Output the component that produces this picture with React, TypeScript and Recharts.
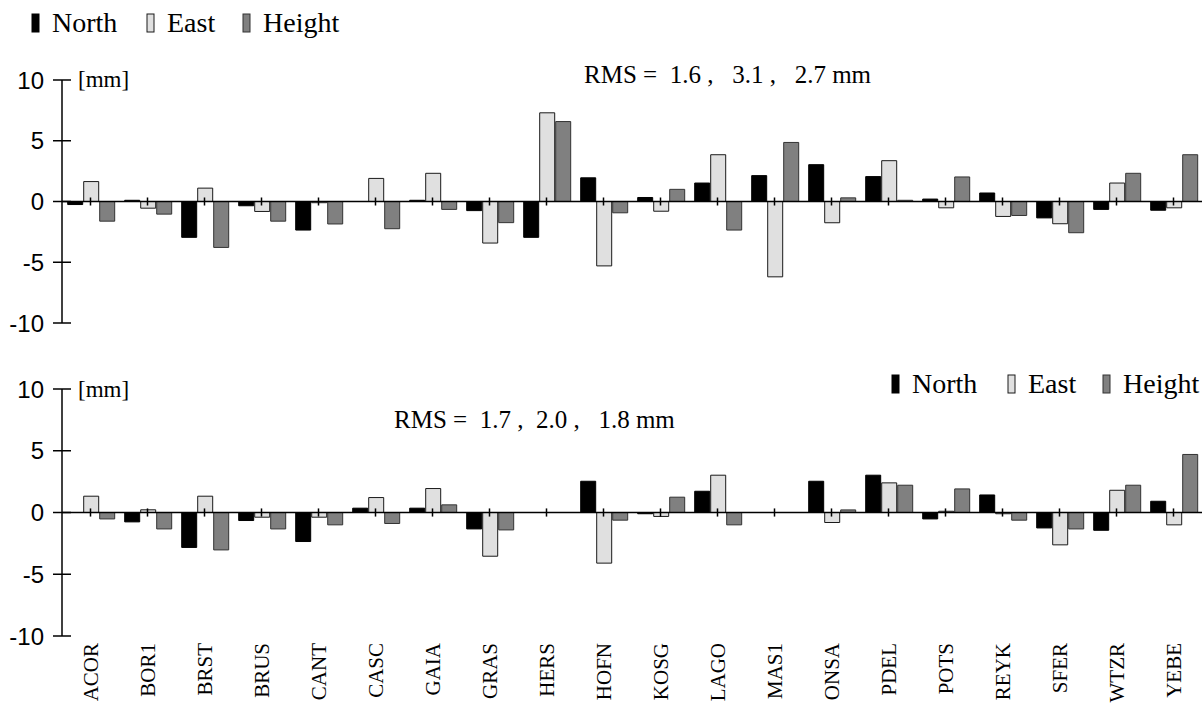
import { Bar, BarChart, ReferenceLine, XAxis, YAxis } from "recharts";

const stations = [
  "ACOR", "BOR1", "BRST", "BRUS", "CANT", "CASC", "GAIA", "GRAS", "HERS", "HOFN",
  "KOSG", "LAGO", "MAS1", "ONSA", "PDEL", "POTS", "REYK", "SFER", "WTZR", "YEBE",
];

// upper panel
const north1 = [-0.25, 0.1, -2.95, -0.35, -2.35, 0, 0.1, -0.75, -2.95, 1.95, 0.33, 1.52, 2.13, 3.03, 2.05, 0.2, 0.7, -1.35, -0.65, -0.72];
const east1 = [1.64, -0.55, 1.1, -0.82, -0.1, 1.9, 2.32, -3.42, 7.3, -5.3, -0.8, 3.85, -6.2, -1.75, 3.36, -0.52, -1.23, -1.83, 1.52, -0.52];
const height1 = [-1.62, -1.04, -3.78, -1.62, -1.85, -2.24, -0.65, -1.74, 6.58, -0.93, 1.0, -2.35, 4.86, 0.3, 0.1, 2.02, -1.15, -2.57, 2.32, 3.85];

// lower panel
const north2 = [0, -0.76, -2.83, -0.65, -2.35, 0.35, 0.35, -1.33, 0, 2.53, -0.1, 1.72, 0, 2.53, 3.02, -0.52, 1.42, -1.25, -1.44, 0.91];
const east2 = [1.32, 0.22, 1.32, -0.38, -0.38, 1.21, 1.94, -3.54, 0, -4.1, -0.32, 3.02, 0, -0.81, 2.4, 0.1, -0.1, -2.62, 1.8, -1.0];
const height2 = [-0.52, -1.33, -3.03, -1.33, -1.0, -0.89, 0.62, -1.41, 0, -0.62, 1.24, -1.0, 0, 0.21, 2.21, 1.91, -0.62, -1.33, 2.21, 4.7];

const yTicks = [-10, -5, 0, 5, 10];
const rms1 = "RMS =  1.6 ,   3.1 ,   2.7 mm";
const rms2 = "RMS =  1.7 ,  2.0 ,   1.8 mm";

const series = [
  { key: "north", label: "North", fill: "#000000", stroke: "#000000" },
  { key: "east", label: "East", fill: "#e0e0e0", stroke: "#1a1a1a" },
  { key: "height", label: "Height", fill: "#808080", stroke: "#333333" },
];

const rows1 = stations.map((station, i) => ({ station, north: north1[i], east: east1[i], height: height1[i] }));
const rows2 = stations.map((station, i) => ({ station, north: north2[i], east: east2[i], height: height2[i] }));

const SERIF = "'Liberation Serif', 'Times New Roman', serif";
const SANS = "'Liberation Sans', Arial, sans-serif";

function YTick({ x, y, payload }: any) {
  return (
    <g>
      <line x1={x - 9} x2={x + 9} y1={y} y2={y} stroke="#000" strokeWidth={1.5} />
      <text x={x - 18} y={y} dy="0.36em" textAnchor="end" fontFamily={SANS} fontSize={24} fill="#000">
        {payload.value}
      </text>
    </g>
  );
}

function StationTick({ x, y, payload }: any) {
  return (
    <text
      x={x}
      y={y + 7}
      dy="0.35em"
      textAnchor="end"
      transform={`rotate(-90, ${x}, ${y + 7})`}
      fontFamily={SERIF}
      fontSize={21}
      fill="#000"
    >
      {payload.value}
    </text>
  );
}

function Panel({ rows, height, top, showLabels }: { rows: any[]; height: number; top: number; showLabels: boolean }) {
  return (
    <BarChart
      width={1202}
      height={height}
      data={rows}
      margin={{ top, right: 0, left: 12, bottom: showLabels ? 1 : 17 }}
      barCategoryGap="10%"
      barGap={1}
    >
      <XAxis
        dataKey="station"
        type="category"
        interval={0}
        hide={!showLabels}
        axisLine={false}
        tickLine={false}
        tickSize={0}
        tickMargin={0}
        height={70}
        tick={<StationTick />}
      />
      <YAxis
        type="number"
        domain={[-10, 10]}
        ticks={yTicks}
        width={50}
        interval={0}
        axisLine={{ stroke: "#000", strokeWidth: 1.5 }}
        tickLine={false}
        tickSize={0}
        tickMargin={0}
        tick={<YTick />}
      />
      {stations.map((s) => (
        <ReferenceLine
          key={s}
          segment={[
            { x: s, y: 0.33 },
            { x: s, y: -0.33 },
          ]}
          stroke="#000"
          strokeWidth={1.5}
        />
      ))}
      {series.map((s) => (
        <Bar
          key={s.key}
          dataKey={s.key}
          fill={s.fill}
          stroke={s.stroke}
          strokeWidth={1}
          isAnimationActive={false}
        />
      ))}
      <ReferenceLine y={0} stroke="#000" strokeWidth={1.5} />
    </BarChart>
  );
}

function LegendRow({ xs, y }: { xs: number[]; y: number }) {
  return (
    <g>
      {series.map((s, i) => (
        <g key={s.key}>
          <rect x={xs[i]} y={y - 18} width={7} height={18} fill={s.fill} stroke={s.stroke} strokeWidth={1} />
          <text x={xs[i] + 20} y={y} fontFamily={SERIF} fontSize={28} fill="#000">
            {s.label}
          </text>
        </g>
      ))}
    </g>
  );
}

export default function App() {
  return (
    <div style={{ position: "absolute", left: 0, top: 0, width: 1202, height: 707, background: "#fff" }}>
      <div style={{ position: "absolute", left: 0, top: 0 }}>
        <Panel rows={rows1} height={340} top={80} showLabels={false} />
      </div>
      <div style={{ position: "absolute", left: 0, top: 360 }}>
        <Panel rows={rows2} height={347} top={29} showLabels={true} />
      </div>
      <svg
        width={1202}
        height={707}
        style={{ position: "absolute", left: 0, top: 0, pointerEvents: "none" }}
      >
        <LegendRow xs={[32, 147, 243]} y={32} />
        <LegendRow xs={[892, 1008, 1103]} y={393} />
        <text x={78} y={87} fontFamily={SERIF} fontSize={23} fill="#000">[mm]</text>
        <text x={78} y={397} fontFamily={SERIF} fontSize={23} fill="#000">[mm]</text>
        <text x={584} y={83} fontFamily={SERIF} fontSize={25} fill="#000" style={{ whiteSpace: "pre" }}>
          {rms1}
        </text>
        <text x={394} y={428} fontFamily={SERIF} fontSize={25} fill="#000" style={{ whiteSpace: "pre" }}>
          {rms2}
        </text>
      </svg>
    </div>
  );
}
